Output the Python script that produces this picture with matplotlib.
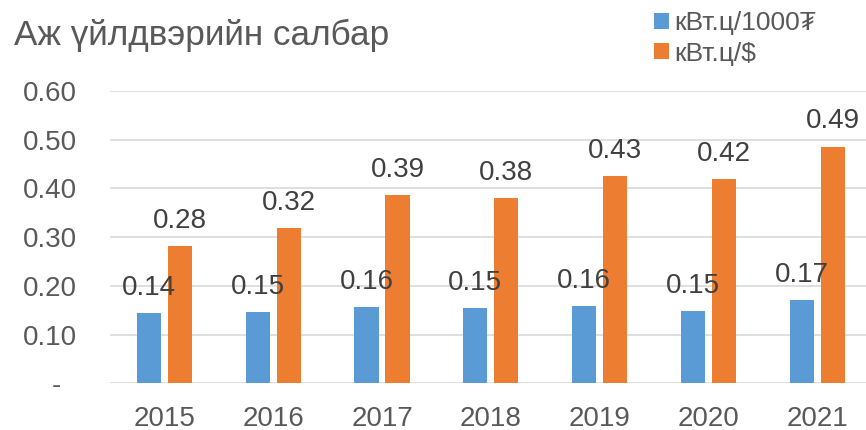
import numpy as np
import matplotlib.pyplot as plt

# Өгөгдөл
years = ["2015", "2016", "2017", "2018", "2019", "2020", "2021"]
kwh_per_1000 = [0.144, 0.147, 0.157, 0.154, 0.159, 0.148, 0.171]
kwh_per_usd = [0.282, 0.318, 0.387, 0.380, 0.426, 0.420, 0.486]
series_names = ["кВт.ц/1000₮", "кВт.ц/$"]
yticks = [0.0, 0.1, 0.2, 0.3, 0.4, 0.5, 0.6]
ytick_labels = ["-  ", "0.10", "0.20", "0.30", "0.40", "0.50", "0.60"]

plt.rcParams["font.family"] = ["Liberation Sans", "DejaVu Sans"]

W, H = 866, 430
fig = plt.figure(figsize=(W / 100, H / 100), dpi=100)
ax = fig.add_axes([110 / W, 1 - 383.3 / H, 761.6 / W, (383.3 - 91) / H])

x = np.arange(len(years))
bw = 0.223
off = 0.143
b1 = ax.bar(x - off, kwh_per_1000, bw, color="#5B9BD5", label=series_names[0], zorder=3)
b2 = ax.bar(x + off, kwh_per_usd, bw, color="#ED7D31", label=series_names[1], zorder=3)

for bars, vals in ((b1, kwh_per_1000), (b2, kwh_per_usd)):
    for rect, v in zip(bars, vals):
        ax.annotate(f"{v:.2f}", (rect.get_x() + rect.get_width() / 2, v),
                    xytext=(0, 13), textcoords="offset points",
                    ha="center", va="baseline", fontsize=20, color="#404040", zorder=4)

ax.set_xlim(-0.5, len(years) - 0.5)
ax.set_ylim(0, 0.6)
ax.set_xticks(x)
ax.set_xticklabels(years)
ax.set_yticks(yticks)
ax.set_yticklabels(ytick_labels)
ax.tick_params(axis="both", length=0, labelsize=20, labelcolor="#595959")
ax.tick_params(axis="y", pad=24)
ax.tick_params(axis="x", pad=16)
ax.grid(axis="y", color="#D9D9D9", linewidth=1.2, zorder=0)
for s in ax.spines.values():
    s.set_visible(False)

fig.text(14 / W, 1 - 35 / H, "Аж үйлдвэрийн салбар", fontsize=25.3,
         color="#595959", va="center", ha="left")

fig.legend(loc="upper left", bbox_to_anchor=(654 / W, 1 - 11 / H), frameon=False,
           fontsize=19, handlelength=0.55, handleheight=0.55, handletextpad=0.2,
           labelspacing=0.25, borderpad=0, borderaxespad=0, labelcolor="#595959")

fig.savefig("out.png", dpi=100)
